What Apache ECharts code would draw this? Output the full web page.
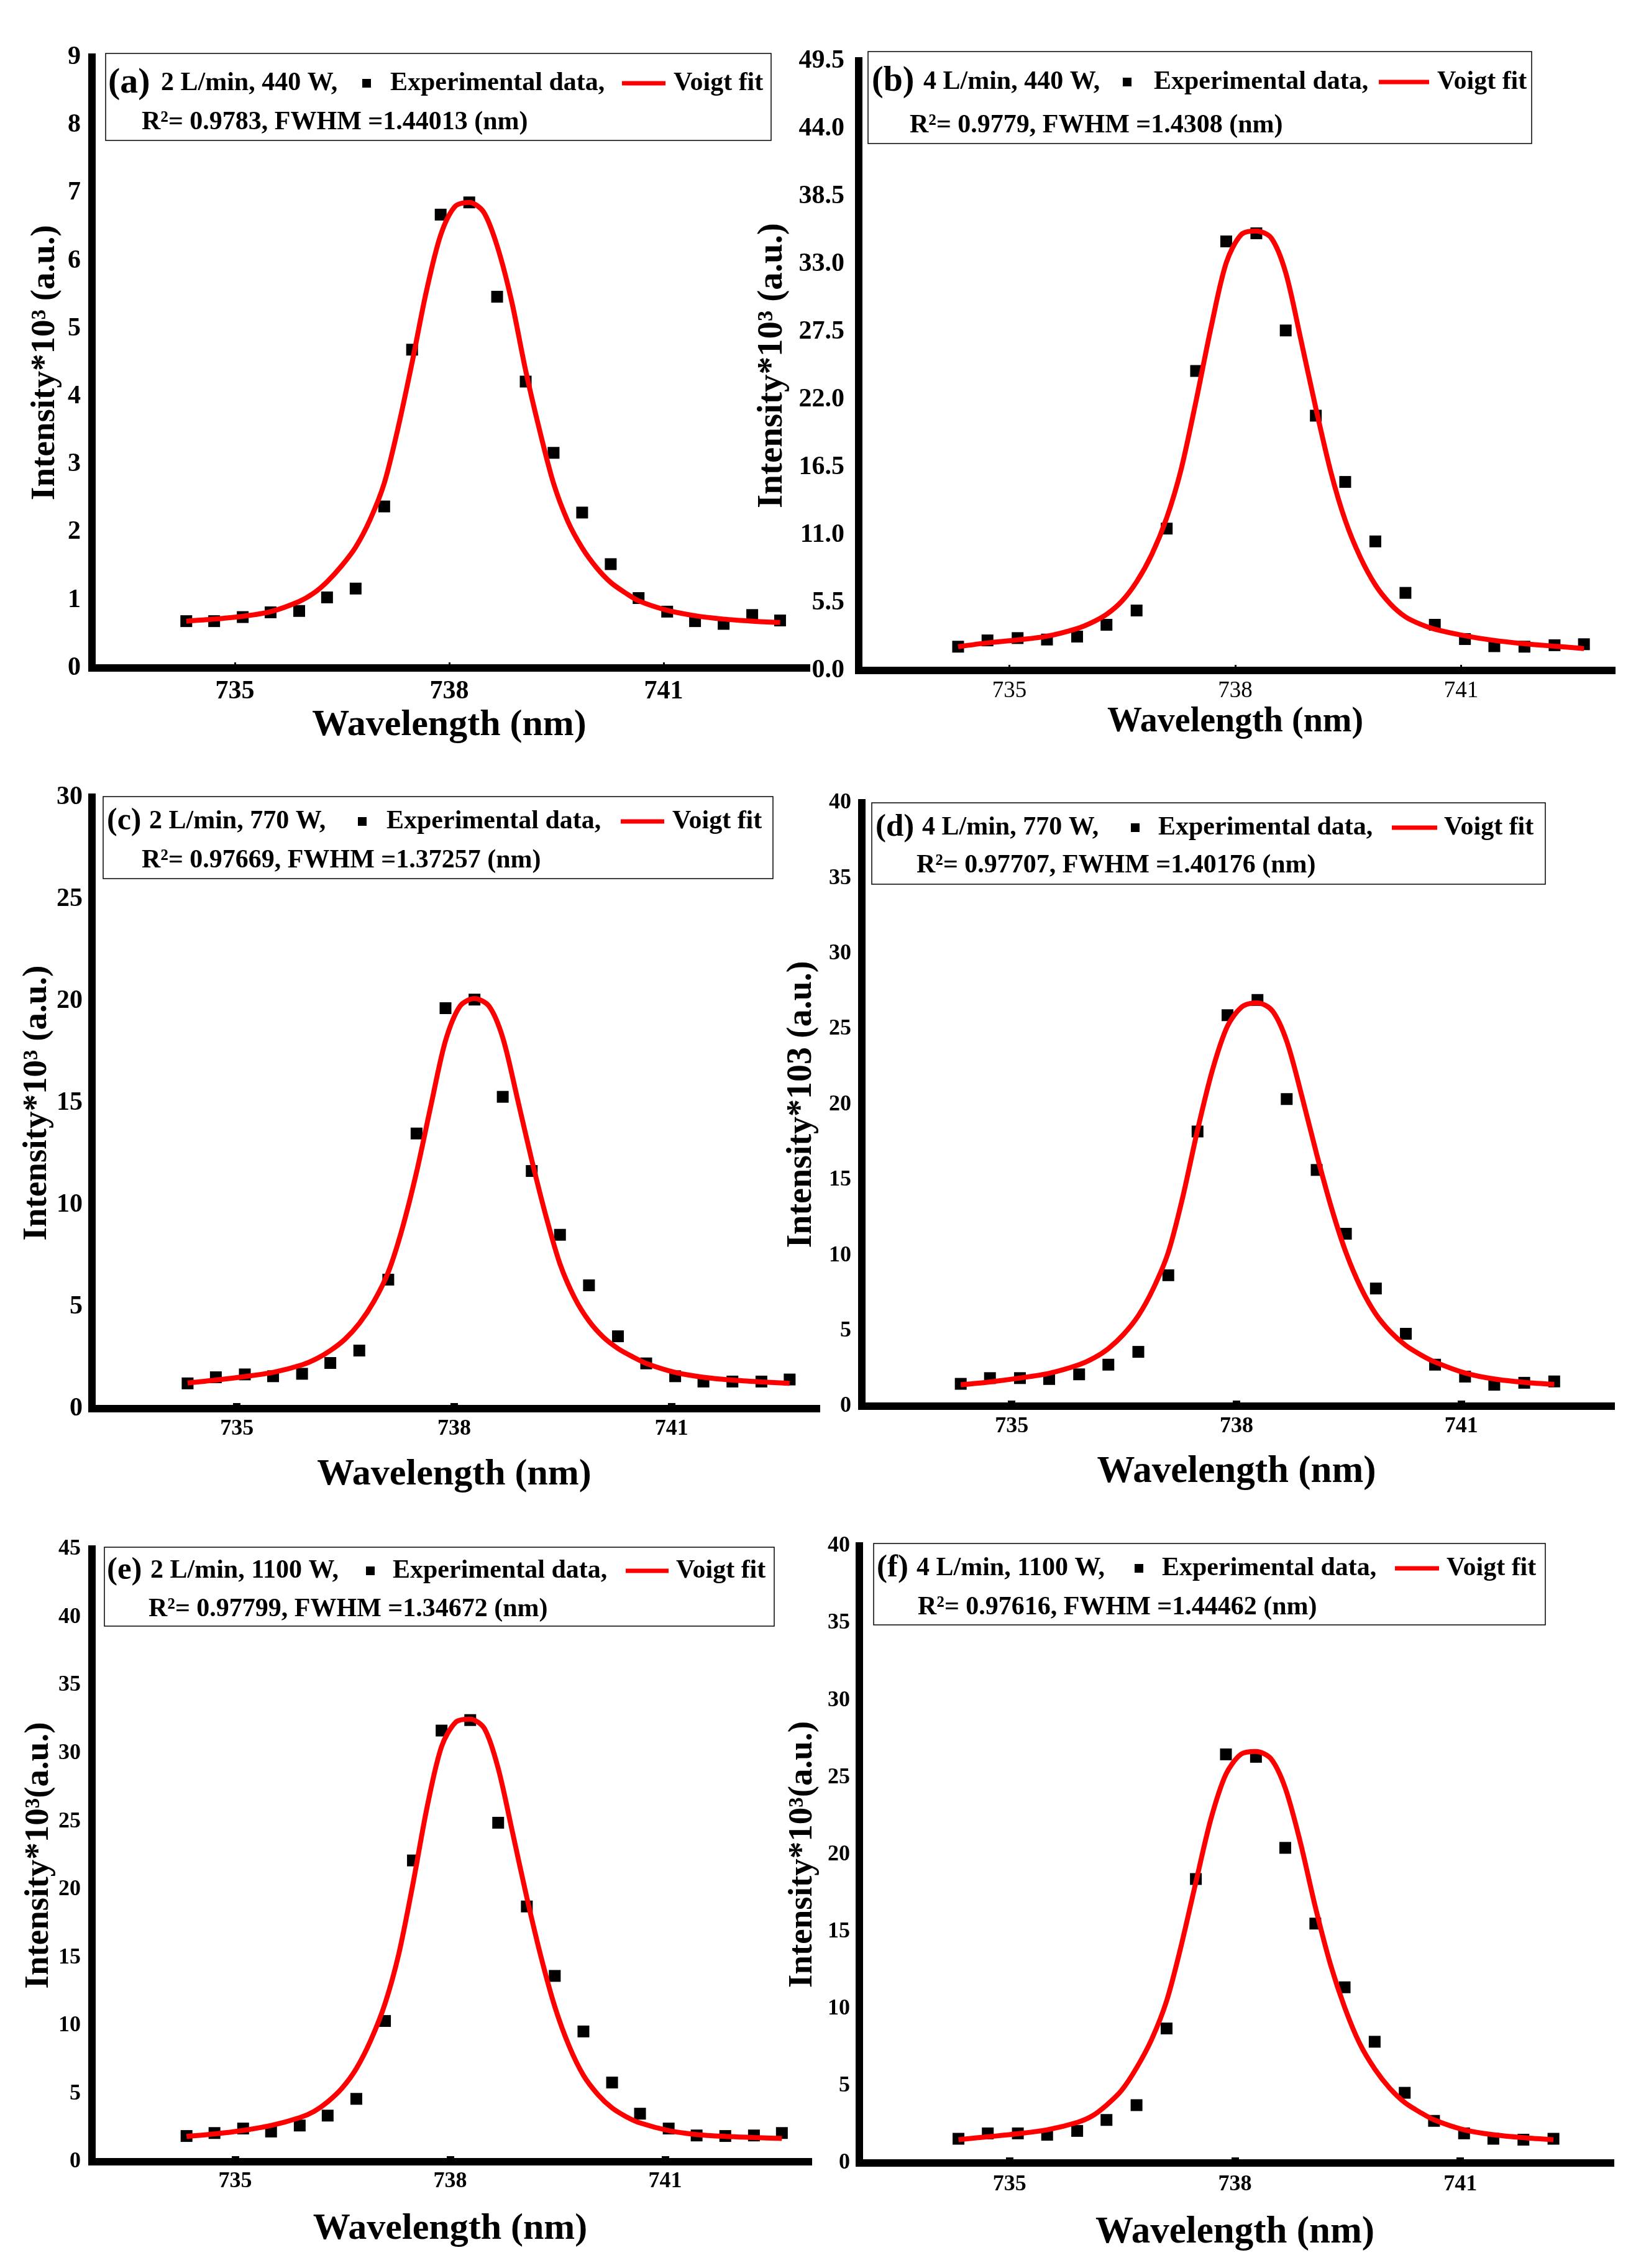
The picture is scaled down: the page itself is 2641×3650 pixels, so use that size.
<!DOCTYPE html>
<html><head><meta charset="utf-8">
<script src="https://cdn.jsdelivr.net/npm/echarts@6/dist/echarts.min.js"></script>
<style>html,body{margin:0;padding:0;background:#fff}#c{width:2641px;height:3650px}</style>
</head><body><div id="c"></div>
<script>
// ---------------- DATA ----------------
const wavelength = [734.32, 734.71, 735.11, 735.50, 735.90, 736.29, 736.69, 737.09, 737.48, 737.88, 738.28, 738.67, 739.07, 739.46, 739.86, 740.26, 740.65, 741.05, 741.44, 741.84, 742.24, 742.63];
const fitWavelength = [734.32, 734.71, 735.10, 735.50, 735.90, 736.10, 736.29, 736.49, 736.69, 736.89, 737.09, 737.28, 737.48, 737.68, 737.88, 738.08, 738.28, 738.48, 738.67, 738.87, 739.07, 739.27, 739.46, 739.66, 739.86, 740.06, 740.26, 740.46, 740.65, 741.05, 741.44, 741.84, 742.24, 742.63];

const expA = [0.69, 0.69, 0.75, 0.82, 0.84, 1.04, 1.17, 2.38, 4.69, 6.68, 6.86, 5.47, 4.22, 3.17, 2.29, 1.53, 1.03, 0.83, 0.69, 0.65, 0.78, 0.70];
const expB = [1.93, 2.44, 2.63, 2.51, 2.75, 3.71, 4.87, 11.52, 24.32, 34.84, 35.50, 27.61, 20.69, 15.31, 10.48, 6.30, 3.71, 2.55, 1.97, 1.93, 2.05, 2.13];
const expC = [1.24, 1.54, 1.68, 1.59, 1.71, 2.24, 2.85, 6.33, 13.50, 19.65, 20.07, 15.30, 11.66, 8.53, 6.05, 3.55, 2.22, 1.59, 1.33, 1.33, 1.33, 1.43];
const expD = [1.48, 1.86, 1.86, 1.80, 2.11, 2.75, 3.60, 8.68, 18.21, 25.92, 26.93, 20.36, 15.66, 11.43, 7.80, 4.80, 2.75, 1.96, 1.42, 1.55, 1.64];
const expE = [1.89, 2.11, 2.44, 2.22, 2.66, 3.39, 4.62, 10.34, 22.13, 31.67, 32.44, 24.90, 18.75, 13.65, 9.57, 5.82, 3.53, 2.44, 1.93, 1.89, 1.93, 2.11];
const expF = [1.57, 1.92, 1.92, 1.83, 2.08, 2.79, 3.75, 8.72, 18.41, 26.49, 26.33, 20.43, 15.52, 11.39, 7.86, 4.55, 2.73, 1.92, 1.57, 1.51, 1.57];

const fitA = [0.69, 0.72, 0.76, 0.83, 0.98, 1.10, 1.27, 1.50, 1.78, 2.18, 2.72, 3.52, 4.50, 5.55, 6.38, 6.80, 6.86, 6.72, 6.22, 5.42, 4.38, 3.48, 2.72, 2.16, 1.77, 1.48, 1.26, 1.11, 0.99, 0.85, 0.77, 0.72, 0.69, 0.67];
const fitB = [1.93, 2.24, 2.47, 2.78, 3.40, 3.90, 4.55, 5.60, 7.20, 9.40, 12.40, 16.30, 21.90, 27.90, 33.10, 35.40, 35.69, 35.10, 32.30, 26.90, 21.30, 16.10, 12.20, 9.20, 6.95, 5.40, 4.35, 3.75, 3.35, 2.82, 2.44, 2.17, 1.97, 1.78];
const fitC = [1.26, 1.40, 1.57, 1.78, 2.15, 2.45, 2.85, 3.40, 4.18, 5.25, 6.70, 8.80, 11.60, 14.90, 18.05, 19.75, 20.12, 19.75, 18.20, 15.25, 12.20, 9.40, 7.10, 5.45, 4.30, 3.50, 2.95, 2.55, 2.22, 1.78, 1.54, 1.40, 1.31, 1.24];
const fitD = [1.42, 1.61, 1.86, 2.18, 2.75, 3.20, 3.82, 4.75, 6.00, 7.80, 10.20, 13.80, 18.30, 22.30, 25.20, 26.50, 26.74, 26.20, 24.20, 20.60, 16.70, 13.10, 10.20, 7.85, 6.10, 4.90, 4.02, 3.40, 2.92, 2.20, 1.80, 1.58, 1.45];
const fitE = [1.86, 2.04, 2.29, 2.66, 3.24, 3.70, 4.40, 5.40, 6.84, 8.90, 11.60, 15.20, 20.40, 26.10, 30.50, 32.30, 32.51, 31.80, 28.90, 24.20, 19.40, 15.00, 11.40, 8.50, 6.35, 4.95, 3.95, 3.30, 2.85, 2.29, 2.00, 1.86, 1.78, 1.71];
const fitF = [1.51, 1.70, 1.89, 2.15, 2.63, 3.05, 3.75, 4.70, 6.16, 8.00, 10.50, 14.00, 18.20, 22.30, 25.20, 26.50, 26.68, 26.20, 24.30, 20.80, 16.60, 12.90, 10.10, 7.75, 6.10, 4.85, 3.92, 3.30, 2.80, 2.15, 1.83, 1.64, 1.51];

const xTickLabels = [735, 738, 741];
const xMinorTicks = [733.5, 736.5, 739.5, 742.5];
const yMaxes = [9, 49.5, 30, 40, 45, 40];
const ySteps = [1, 5.5, 5, 5, 5, 5];
const yDecimals = [0, 1, 0, 0, 0, 0];

const panelTags = ['(a)', '(b)', '(c)', '(d)', '(e)', '(f)'];
const conditions = ['2 L/min, 440 W,', '4 L/min, 440 W,', '2 L/min, 770 W,', '4 L/min, 770 W,', '2 L/min, 1100 W,', '4 L/min, 1100 W,'];
const fitStats = ['R\u00b2= 0.9783, FWHM =1.44013 (nm)', 'R\u00b2= 0.9779, FWHM =1.4308 (nm)', 'R\u00b2= 0.97669, FWHM =1.37257 (nm)', 'R\u00b2= 0.97707, FWHM =1.40176 (nm)', 'R\u00b2= 0.97799, FWHM =1.34672 (nm)', 'R\u00b2= 0.97616, FWHM =1.44462 (nm)'];
const yTitles = ['Intensity*10\u00b3 (a.u.)', 'Intensity*10\u00b3 (a.u.)', 'Intensity*10\u00b3 (a.u.)', 'Intensity*103 (a.u.)', 'Intensity*10\u00b3(a.u.)', 'Intensity*10\u00b3(a.u.)'];
const xTitle = 'Wavelength (nm)';
const expLabel = 'Experimental data,';
const fitLabel = 'Voigt fit';

const expSets = [expA, expB, expC, expD, expE, expF];
const fitSets = [fitA, fitB, fitC, fitD, fitE, fitF];

// ---------------- LAYOUT (styles / positions only) ----------------
const FONT = 'Liberation Serif';
const LG_FONT = 42;
const layout = [
  {grid:{left:148, top:92, width:1150, height:983}, yLab:42, xLab:42, xW:'bold', yNameSize:55, yNameGap:48, xNameSize:60, xNameGap:62, tickW:3, minor:false, yMargin:18, xMargin:17,
   lg:{box:[170,86,1241,226], y1:134, y2:197, tagX:174, tagSize:58, t1x:259, sq:590, ex:628, ln:[1001,1071], vx:1084, l2x:228}},
  {grid:{left:1382, top:98, width:1212, height:981}, yLab:42, xLab:37, xW:'normal', yNameSize:57, yNameGap:110, xNameSize:56, xNameGap:56, tickW:3, minor:false, yMargin:23, xMargin:15,
   lg:{box:[1397,83,2465,231], y1:132, y2:202, tagX:1403, tagSize:56, t1x:1486, sq:1814, ex:1857, ln:[2219,2300], vx:2313, l2x:1464}},
  {grid:{left:148, top:1283, width:1166, height:984}, yLab:42, xLab:36, xW:'bold', yNameSize:55, yNameGap:56, xNameSize:60, xNameGap:76, tickW:12, minor:true, yMargin:15, xMargin:15,
   lg:{box:[166,1282,1244,1414], y1:1322, y2:1385, tagX:172, tagSize:50, t1x:240, sq:583, ex:622, ln:[999,1069], vx:1082, l2x:228}},
  {grid:{left:1387, top:1292, width:1206, height:971}, yLab:36, xLab:36, xW:'bold', yNameSize:56, yNameGap:68, xNameSize:61, xNameGap:76, tickW:12, minor:true, yMargin:17, xMargin:15,
   lg:{box:[1403,1292,2487,1423], y1:1332, y2:1393, tagX:1409, tagSize:51, t1x:1484, sq:1827, ex:1864, ln:[2240,2313], vx:2324, l2x:1475}},
  {grid:{left:148, top:2493, width:1153, height:986}, yLab:36, xLab:36, xW:'bold', yNameSize:55, yNameGap:58, xNameSize:60, xNameGap:78, tickW:12, minor:true, yMargin:18, xMargin:14,
   lg:{box:[168,2490,1246,2617], y1:2528, y2:2590, tagX:172, tagSize:51, t1x:242, sq:596, ex:632, ln:[1007,1076], vx:1088, l2x:239}},
  {grid:{left:1383, top:2488, width:1209, height:993}, yLab:36, xLab:36, xW:'bold', yNameSize:55, yNameGap:64, xNameSize:61, xNameGap:82, tickW:12, minor:true, yMargin:15, xMargin:17,
   lg:{box:[1406,2484,2487,2615], y1:2524, y2:2587, tagX:1411, tagSize:51, t1x:1475, sq:1833, ex:1870, ln:[2245,2316], vx:2328, l2x:1477}}
];

const grids = [], xAxes = [], yAxes = [], series = [], graphics = [];
layout.forEach((L, i) => {
  grids.push(Object.assign({containLabel:false}, L.grid));
  const xi = xAxes.length;
  xAxes.push({
    type:'value', gridIndex:i, min:733, max:743,
    name:xTitle, nameLocation:'middle', nameGap:L.xNameGap,
    nameTextStyle:{fontFamily:FONT, fontWeight:'bold', fontSize:L.xNameSize, color:'#000'},
    axisLine:{show:true, onZero:false, lineStyle:{color:'#000', width:12, cap:'square'}},
    axisTick:{show:true, inside:true, length:9, customValues:xTickLabels, lineStyle:{color:'#000', width:L.tickW}},
    axisLabel:{show:true, customValues:xTickLabels, margin:L.xMargin, fontFamily:FONT, fontWeight:L.xW, fontSize:L.xLab, color:'#000'},
    splitLine:{show:false}
  });
  if (L.minor) {
    xAxes.push({
      type:'value', gridIndex:i, min:733, max:743, position:'bottom',
      axisLine:{show:false},
      axisTick:{show:true, inside:true, length:3, customValues:xMinorTicks, lineStyle:{color:'#000', width:12}},
      axisLabel:{show:false}, splitLine:{show:false}
    });
  }
  const dec = yDecimals[i];
  yAxes.push({
    type:'value', gridIndex:i, min:0, max:yMaxes[i], interval:ySteps[i],
    name:yTitles[i], nameLocation:'middle', nameRotate:90, nameGap:L.yNameGap,
    nameTextStyle:{fontFamily:FONT, fontWeight:'bold', fontSize:L.yNameSize, color:'#000'},
    axisLine:{show:true, onZero:false, lineStyle:{color:'#000', width:12, cap:'square'}},
    axisTick:{show:false},
    axisLabel:{margin:L.yMargin, fontFamily:FONT, fontWeight:'bold', fontSize:L.yLab, color:'#000', formatter:v => Number(v).toFixed(dec)},
    splitLine:{show:false}
  });
  const exp = expSets[i], fit = fitSets[i];
  series.push({
    type:'scatter', xAxisIndex:xi, yAxisIndex:i, symbol:'rect', symbolSize:19,
    itemStyle:{color:'#000', opacity:1}, z:2,
    data: exp.map((v, k) => [wavelength[k], v])
  });
  series.push({
    type:'line', xAxisIndex:xi, yAxisIndex:i, smooth:0.3, showSymbol:false, symbol:'none',
    lineStyle:{color:'#ff0000', width:8}, z:3,
    data: fit.map((v, k) => [fitWavelength[k], v])
  });
  const g = L.lg;
  const txt = (x, y, text, size) => ({type:'text', z:100, style:{x:x, y:y, text:text, fontFamily:FONT, fontWeight:'bold', fontSize:size, fill:'#000', align:'left', verticalAlign:'middle', textAlign:'left', textVerticalAlign:'middle'}});
  graphics.push({type:'rect', z:99, shape:{x:g.box[0], y:g.box[1], width:g.box[2]-g.box[0], height:g.box[3]-g.box[1]}, style:{fill:'#fff', stroke:'#000', lineWidth:1.5}});
  graphics.push(txt(g.tagX, g.y1, panelTags[i], g.tagSize));
  graphics.push(txt(g.t1x, g.y1, conditions[i], LG_FONT));
  graphics.push({type:'rect', z:100, shape:{x:g.sq-7, y:g.y1-7, width:14, height:14}, style:{fill:'#000'}});
  graphics.push(txt(g.ex, g.y1, expLabel, LG_FONT));
  graphics.push({type:'line', z:100, shape:{x1:g.ln[0], y1:g.y1, x2:g.ln[1], y2:g.y1}, style:{stroke:'#ff0000', lineWidth:7}});
  graphics.push(txt(g.vx, g.y1, fitLabel, LG_FONT));
  graphics.push(txt(g.l2x, g.y2, fitStats[i], LG_FONT));
});

const chart = echarts.init(document.getElementById('c'), null, {renderer:'canvas', width:2641, height:3650});
chart.setOption({
  backgroundColor:'#fff',
  animation:false,
  grid:grids, xAxis:xAxes, yAxis:yAxes, series:series,
  graphic:graphics
});
</script></body></html>
